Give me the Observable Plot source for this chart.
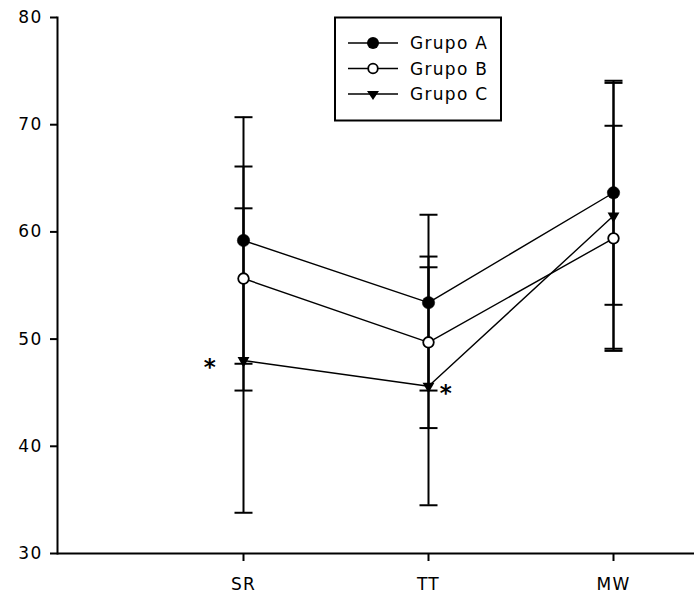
<!DOCTYPE html>
<html>
<head>
<meta charset="utf-8">
<script src="https://cdn.jsdelivr.net/npm/d3@7"></script>
<script src="https://cdn.jsdelivr.net/npm/@observablehq/plot@0.6"></script>
<style>
  html, body { margin: 0; padding: 0; background: #fff; }
  #wrap { position: relative; width: 694px; height: 593px; }
  #legend { position: absolute; left: 0; top: 0; pointer-events: none; }
</style>
</head>
<body>
<div id="wrap"></div>
<script>
// ---- data ----
const categories = ["SR", "TT", "MW"];
const groups = ["Grupo A", "Grupo B", "Grupo C"];
const meanA = [59.2, 53.4, 63.65];
const sdA   = [11.5, 8.2, 10.45];
const meanB = [55.65, 49.7, 59.4];
const sdB   = [10.45, 8.0, 10.5];
const meanC = [48.0, 45.6, 61.5];
const sdC   = [14.2, 11.1, 12.4];
const yTicks = [30, 40, 50, 60, 70, 80];
// significance marks (asterisks) next to Grupo C points
const starCats = ["SR", "TT"];
const starSides = ["left", "right"];

// ---- build tables ----
const means = [meanA, meanB, meanC];
const sds = [sdA, sdB, sdC];
const rows = [];
groups.forEach((g, gi) => categories.forEach((c, ci) => {
  rows.push({group: g, cat: c, mean: means[gi][ci], sd: sds[gi][ci]});
}));
const caps = rows.flatMap(d => [
  {group: d.group, cat: d.cat, v: d.mean - d.sd},
  {group: d.group, cat: d.cat, v: d.mean + d.sd}
]);
const stars = starCats.map((c, i) => ({
  cat: c, side: starSides[i], mean: meanC[categories.indexOf(c)]
}));

const capSymbol = {draw(ctx) { ctx.moveTo(-9, 0); ctx.lineTo(9, 0); }};

const font = "'DejaVu Sans', sans-serif";

const chart = Plot.plot({
  width: 694,
  height: 593,
  marginLeft: 57,
  marginRight: 0,
  marginTop: 17,
  marginBottom: 40,
  style: {fontFamily: font, fontSize: "17px", letterSpacing: "1.3px", color: "black", background: "white"},
  x: {type: "point", domain: categories, padding: 0.7216, align: 0.6966},
  y: {domain: [30, 80]},
  marks: [
    Plot.frame({anchor: "left", strokeWidth: 2, stroke: "black"}),
    Plot.axisY(yTicks, {tickSize: 7, tickPadding: 8, fontSize: 17, strokeWidth: 2, label: null}),
    Plot.axisX({tickSize: 8, tickPadding: 16, fontSize: 17, strokeWidth: 2, label: null}),
    Plot.ruleY([30], {strokeWidth: 2}),
    Plot.ruleX(rows, {x: "cat", y1: d => d.mean - d.sd, y2: d => d.mean + d.sd, strokeWidth: 2, stroke: "black"}),
    Plot.dot(caps, {x: "cat", y: "v", symbol: capSymbol, r: 1, fill: "none", stroke: "black", strokeWidth: 2}),
    Plot.line(rows, {x: "cat", y: "mean", z: "group", stroke: "black", strokeWidth: 1.4}),
    Plot.dot(rows.filter(d => d.group === "Grupo A"), {x: "cat", y: "mean", r: 6.2, fill: "black", stroke: "black", strokeWidth: 0.5}),
    Plot.dot(rows.filter(d => d.group === "Grupo B"), {x: "cat", y: "mean", r: 5.3, fill: "white", stroke: "black", strokeWidth: 1.8}),
    Plot.dot(rows.filter(d => d.group === "Grupo C"), {x: "cat", y: "mean", symbol: "triangle", rotate: 180, r: 4.4, fill: "black"}),
    Plot.text(stars, {x: "cat", y: "mean", text: () => "*", fontSize: 23, fontWeight: "bold", fill: "black", dy: 7}),
  ]
});

document.getElementById("wrap").appendChild(chart);

// ---- legend (inside plot area, boxed) ----
const ns = "http://www.w3.org/2000/svg";
const leg = document.createElementNS(ns, "svg");
leg.setAttribute("id", "legend");
leg.setAttribute("width", 694);
leg.setAttribute("height", 593);
leg.style.fontFamily = font;
leg.style.fontSize = "17px";
leg.style.letterSpacing = "1.3px";
function el(tag, attrs, parent) {
  const e = document.createElementNS(ns, tag);
  for (const k in attrs) e.setAttribute(k, attrs[k]);
  (parent || leg).appendChild(e);
  return e;
}
el("rect", {x: 335, y: 17.5, width: 166, height: 103, fill: "white", stroke: "black", "stroke-width": 2});
const rowY = [43, 68.5, 94];
groups.forEach((g, i) => {
  const y = rowY[i];
  el("line", {x1: 348, x2: 398, y1: y, y2: y, stroke: "black", "stroke-width": 1.6});
  if (i === 0) el("circle", {cx: 373, cy: y, r: 6, fill: "black"});
  if (i === 1) el("circle", {cx: 373, cy: y, r: 4.8, fill: "white", stroke: "black", "stroke-width": 1.8});
  if (i === 2) el("path", {d: `M${373-6},${y-3} L${373+6},${y-3} L${373},${y+6} Z`, fill: "black"});
  const t = el("text", {x: 410, y: y + 6.2, fill: "black"});
  t.textContent = g;
});
document.getElementById("wrap").appendChild(leg);

// shift asterisks horizontally (left of SR point, right of TT point)
const starTexts = chart.querySelectorAll("g[aria-label='text'] text");
starTexts.forEach((t, i) => {
  const dx = stars[i].side === "left" ? -33 : 18;
  const tr = t.getAttribute("transform") || "";
  t.setAttribute("transform", tr + ` translate(${dx},0)`);
});
</script>
</body>
</html>
